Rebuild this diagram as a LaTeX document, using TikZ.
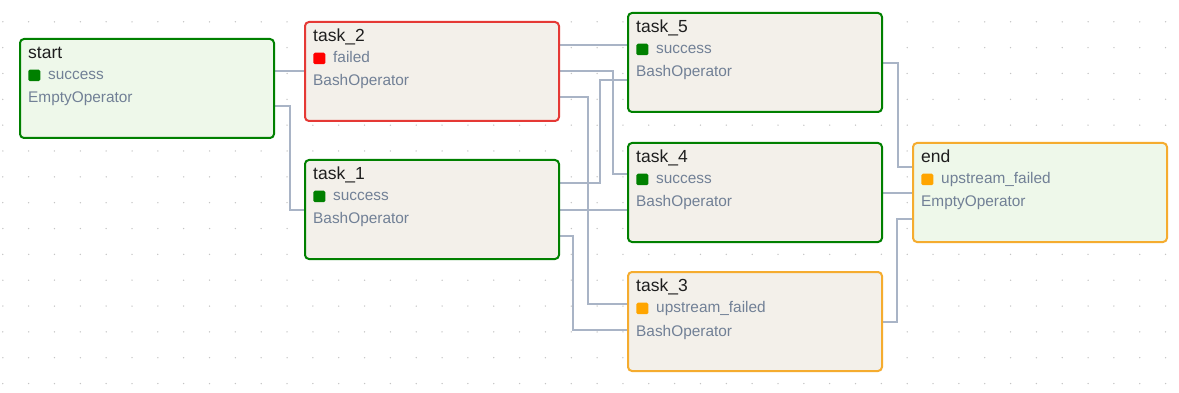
\documentclass[tikz,border=0pt]{standalone}
\usepackage{fontspec}
\setmainfont{Liberation Sans}
\definecolor{edgecol}{HTML}{A9B4C6}
\definecolor{dotcol}{HTML}{C4C4C4}
\definecolor{okgreen}{HTML}{008000}
\definecolor{failred}{HTML}{E53935}
\definecolor{sqred}{HTML}{FF0000}
\definecolor{upor}{HTML}{F5AC2F}
\definecolor{sqor}{HTML}{FFA500}
\definecolor{taskfill}{HTML}{F3F0EA}
\definecolor{emptyfill}{HTML}{EEF8EA}
\definecolor{subtext}{HTML}{718096}
\definecolor{titletext}{HTML}{1E1E1E}
\pgfdeclarelayer{dots}
\pgfdeclarelayer{wires}
\pgfsetlayers{dots,wires,main}
\tikzset{
  taskbox/.style={draw, line width=2pt, rounded corners=4pt, minimum width=254pt, minimum height=99pt, anchor=north west, inner sep=0pt, outer sep=0pt},
  titlelbl/.style={anchor=base west, inner sep=0pt, text=titletext, font=\fontsize{17.5}{20}\selectfont},
  sublbl/.style={anchor=base west, inner sep=0pt, text=subtext, font=\fontsize{15.4}{18}\selectfont},
  sqbox/.style={anchor=north west, inner sep=0pt, outer sep=0pt, minimum width=12pt, minimum height=11.5pt, rounded corners=1.5pt},
  edge/.style={draw=edgecol, line width=2.2pt}
}
\begin{document}
\begin{tikzpicture}[x=1pt,y=-1pt]
\useasboundingbox (0,0) rectangle (1179,393);
% nodes
\node[taskbox, draw=okgreen, fill=emptyfill] (start) at (20,39) {};
\node[taskbox, draw=failred, fill=taskfill] (task2) at (305,22) {};
\node[taskbox, draw=okgreen, fill=taskfill] (task1) at (305,160) {};
\node[taskbox, draw=okgreen, fill=taskfill] (task5) at (628,13) {};
\node[taskbox, draw=okgreen, fill=taskfill] (task4) at (628,143) {};
\node[taskbox, draw=upor, fill=taskfill] (task3) at (628,272) {};
\node[taskbox, draw=upor, fill=emptyfill] (end) at (913,143) {};
% labels
\foreach \n/\t/\sc/\st/\op in {start/start/okgreen/success/EmptyOperator,
  task2/task\_2/sqred/failed/BashOperator,
  task1/task\_1/okgreen/success/BashOperator,
  task5/task\_5/okgreen/success/BashOperator,
  task4/task\_4/okgreen/success/BashOperator,
  task3/task\_3/sqor/upstream\_failed/BashOperator,
  end/end/sqor/upstream\_failed/EmptyOperator}{
  \node[titlelbl] (\n-title) at ([xshift=8pt,yshift=-19.7pt]\n.north west) {\t};
  \node[sqbox, fill=\sc] (\n-sq) at ([xshift=8.3pt,yshift=-30.7pt]\n.north west) {};
  \node[sublbl] (\n-state) at ([xshift=28pt,yshift=-40.7pt]\n.north west) {\st};
  \node[sublbl] (\n-op) at ([xshift=8pt,yshift=-64pt]\n.north west) {\op};
}
% edges
\begin{pgfonlayer}{wires}
\draw[edge] ([yshift=-32pt]start.north east) -- ([yshift=-49pt]task2.north west);
\draw[edge] ([yshift=-67pt]start.north east) -- ++(16,0) |- ([yshift=-50pt]task1.north west);
\draw[edge] ([yshift=-23pt]task2.north east) -- ([yshift=-32pt]task5.north west);
\draw[edge] ([yshift=-49pt]task2.north east) -- ++(54,0) |- ([yshift=-31pt]task4.north west);
\draw[edge] ([yshift=-75pt]task2.north east) -- ++(29,0) |- ([yshift=-32pt]task3.north west);
\draw[edge] ([yshift=-23pt]task1.north east) -- ++(41,0) |- ([yshift=-67pt]task5.north west);
\draw[edge] ([yshift=-50pt]task1.north east) -- ([yshift=-67pt]task4.north west);
\draw[edge] ([yshift=-76pt]task1.north east) -- ++(14,0) |- ([yshift=-58pt]task3.north west);
\draw[edge] ([yshift=-50pt]task5.north east) -- ++(16,0) |- ([yshift=-24pt]end.north west);
\draw[edge] ([yshift=-50pt]task4.north east) -- ([yshift=-50pt]end.north west);
\draw[edge] ([yshift=-50pt]task3.north east) -- ++(15,0) |- ([yshift=-76pt]end.north west);
\end{pgfonlayer}
% dotted background
\begin{pgfonlayer}{dots}
\fill[white] (0,0) rectangle (1179,393);
\foreach \i in {0,...,45}{
  \foreach \j in {0,...,14}{
    \fill[dotcol] ({2.8+25.84*\i},{21.8+25.84*\j}) circle (0.75pt);
  }
}
\end{pgfonlayer}
\end{tikzpicture}
\end{document}
